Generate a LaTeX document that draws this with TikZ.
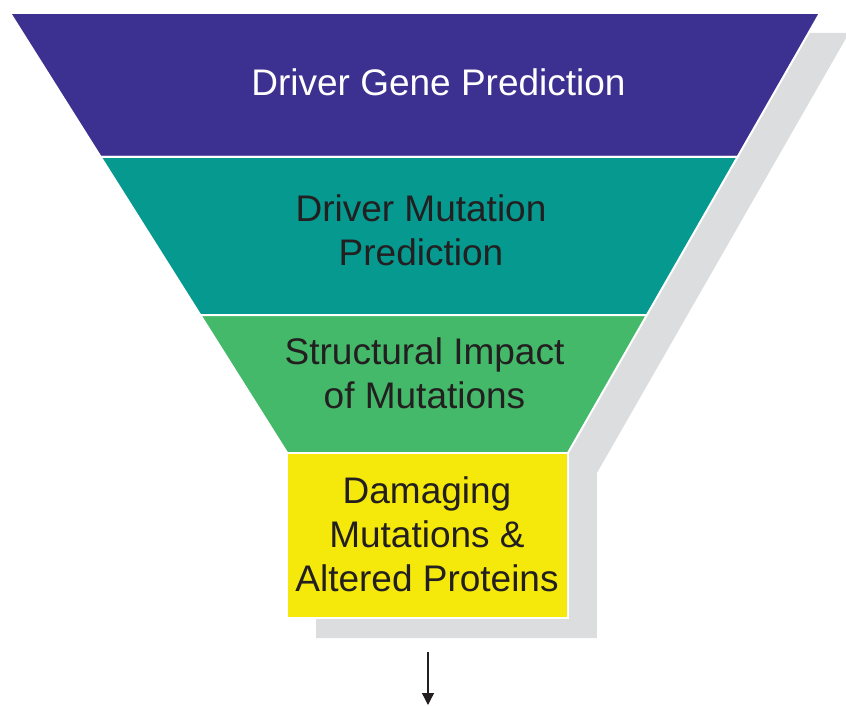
\documentclass[tikz,border=0pt]{standalone}
\usepackage{fontspec}
\setmainfont{Liberation Sans}
\usetikzlibrary{arrows.meta}
\definecolor{cpurple}{HTML}{3C3190}
\definecolor{cteal}{HTML}{05998F}
\definecolor{cgreen}{HTML}{43B969}
\definecolor{cyellow}{HTML}{F4E90A}
\definecolor{cgray}{HTML}{DCDDDE}
\definecolor{cdark}{HTML}{231F20}
\begin{document}
\begin{tikzpicture}[x=1pt,y=-1pt,
  band/.style={draw=white,line width=2pt,line join=miter},
  lbl/.style={font=\fontsize{37}{44}\selectfont, align=center, text=cdark, inner sep=0pt}]
\useasboundingbox (0,0) rectangle (846,706);
\clip (0,0) rectangle (846,706);
% shadow
\fill[cgray, shift={(29,20)}] (10,13) -- (820,13) -- (567.9,453) -- (567.9,618) -- (287.2,618) -- (287.2,453) -- cycle;
% bands
\filldraw[band, fill=cpurple] (10,13) -- (820,13) -- (737.5,157) -- (100.7,157) -- cycle;
\filldraw[band, fill=cteal] (100.7,157) -- (737.5,157) -- (646.9,315) -- (200.3,315) -- cycle;
\filldraw[band, fill=cgreen] (200.3,315) -- (646.9,315) -- (567.9,453) -- (287.2,453) -- cycle;
\filldraw[band, fill=cyellow] (287.2,453) -- (567.9,453) -- (567.9,618) -- (287.2,618) -- cycle;
% labels
\node[lbl, text=white] (gene) at (438.5,82) {Driver Gene Prediction};
\node[lbl] (mut) at (421,230) {Driver Mutation\\Prediction};
\node[lbl] (struct) at (424.5,373) {Structural Impact\\of Mutations};
\node[lbl] (dmg) at (427,534) {Damaging\\Mutations \&\\Altered Proteins};
% arrow
\coordinate (astart) at (428,652);
\coordinate (aend) at (428,705);
\draw[line width=1.3pt, cdark, -{Triangle[length=12pt,width=12pt]}] (astart) -- (aend);
\end{tikzpicture}
\end{document}
